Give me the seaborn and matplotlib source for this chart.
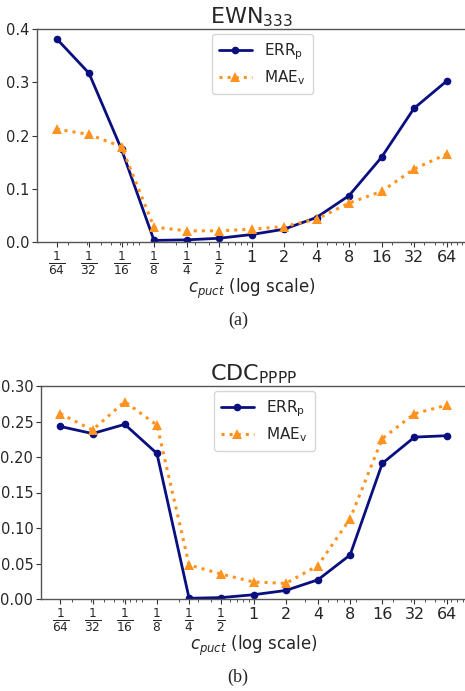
import matplotlib
matplotlib.use("Agg")
import matplotlib.pyplot as plt
import seaborn as sns
import numpy as np
import pandas as pd

# c_puct values swept (powers of two) and their tick labels
c_puct = [1/64, 1/32, 1/16, 1/8, 1/4, 1/2, 1, 2, 4, 8, 16, 32, 64]
tick_labels = [r"$\frac{1}{64}$", r"$\frac{1}{32}$", r"$\frac{1}{16}$", r"$\frac{1}{8}$",
               r"$\frac{1}{4}$", r"$\frac{1}{2}$", "1", "2", "4", "8", "16", "32", "64"]

# EWN_333 results
ewn_err_p = [0.382, 0.317, 0.174, 0.003, 0.004, 0.007, 0.014, 0.024, 0.046, 0.087, 0.159, 0.251, 0.302]
ewn_mae_v = [0.212, 0.202, 0.179, 0.028, 0.021, 0.021, 0.024, 0.029, 0.043, 0.073, 0.095, 0.137, 0.165]

# CDC_PPPP results
cdc_err_p = [0.243, 0.233, 0.246, 0.205, 0.001, 0.002, 0.006, 0.012, 0.027, 0.062, 0.191, 0.228, 0.230]
cdc_mae_v = [0.261, 0.238, 0.278, 0.245, 0.048, 0.035, 0.024, 0.022, 0.047, 0.113, 0.226, 0.261, 0.273]

sns.set_theme(style="white")
plt.rcParams["font.family"] = ["DejaVu Sans"]
plt.rcParams["mathtext.fontset"] = "dejavusans"
plt.rcParams["mathtext.default"] = "regular"

W, H = 465, 691
fig = plt.figure(figsize=(W / 100, H / 100), dpi=100)

NAVY = "#0a0f80"
ORANGE = "#ff931f"


def panel(box, err, mae, title, ylim, yticks, yfmt, caption, cap_y):
    l, t, r, b = box
    ax = fig.add_axes([l / W, 1 - b / H, (r - l) / W, (b - t) / H])
    df = pd.DataFrame({"c": c_puct, "err": err, "mae": mae})
    sns.lineplot(data=df, x="c", y="err", ax=ax, color=NAVY, lw=2.0,
                 marker="o", markersize=5.5, markeredgewidth=0,
                 label=r"ERR$_{\mathrm{p}}$")
    sns.lineplot(data=df, x="c", y="mae", ax=ax, color=ORANGE, lw=2.2,
                 linestyle=":", marker="^", markersize=6.5, markeredgewidth=0,
                 label=r"MAE$_{\mathrm{v}}$")
    ax.set_xscale("log")
    ax.set_xticks(c_puct)
    ax.set_xticklabels(tick_labels)
    ax.set_xlim(c_puct[0] / 2 ** 0.6, c_puct[-1] * 2 ** 0.6)
    ax.set_ylim(*ylim)
    ax.set_yticks(yticks)
    ax.set_yticklabels([yfmt.format(v) for v in yticks])
    ax.tick_params(axis="both", which="major", labelsize=10.5, length=3.5,
                   width=0.8, color="#333333", bottom=True, left=True, pad=2)
    ax.tick_params(axis="x", which="major", labelsize=11.5)
    ax.tick_params(axis="x", which="minor", length=2, width=0.6,
                   color="#333333", bottom=True)
    # fraction labels are drawn larger so their parts read like the integers
    for lab in ax.get_xticklabels():
        if "frac" in lab.get_text():
            lab.set_fontsize(12.5)
    ax.set_xlabel(r"$\mathit{c}_{\mathit{puct}}$ (log scale)", fontsize=12, labelpad=0)
    ax.set_ylabel("")
    ax.set_title(title, fontsize=16, pad=2)
    for s in ax.spines.values():
        s.set_color("#555555")
        s.set_linewidth(1.0)
    leg = ax.legend(loc="upper center", bbox_to_anchor=(0.525, 1.0), fontsize=11,
                    frameon=True, handlelength=2.2, borderpad=0.45,
                    labelspacing=0.45, handletextpad=0.8, borderaxespad=0.35)
    leg.get_frame().set_edgecolor("#cccccc")
    fig.text(238 / W, 1 - cap_y / H, caption, ha="center", va="center",
             fontsize=13, family=["Liberation Serif"])
    return ax


panel((37, 29, 466, 242), ewn_err_p, ewn_mae_v, r"EWN$_{333}$",
      (0, 0.4), [0.0, 0.1, 0.2, 0.3, 0.4], "{:.1f}", "(a)", 320)
panel((41, 386, 466, 599), cdc_err_p, cdc_mae_v, r"CDC$_{\mathrm{PPPP}}$",
      (0, 0.30), [0.0, 0.05, 0.10, 0.15, 0.20, 0.25, 0.30], "{:.2f}", "(b)", 677)

fig.savefig("out.png", dpi=100)
